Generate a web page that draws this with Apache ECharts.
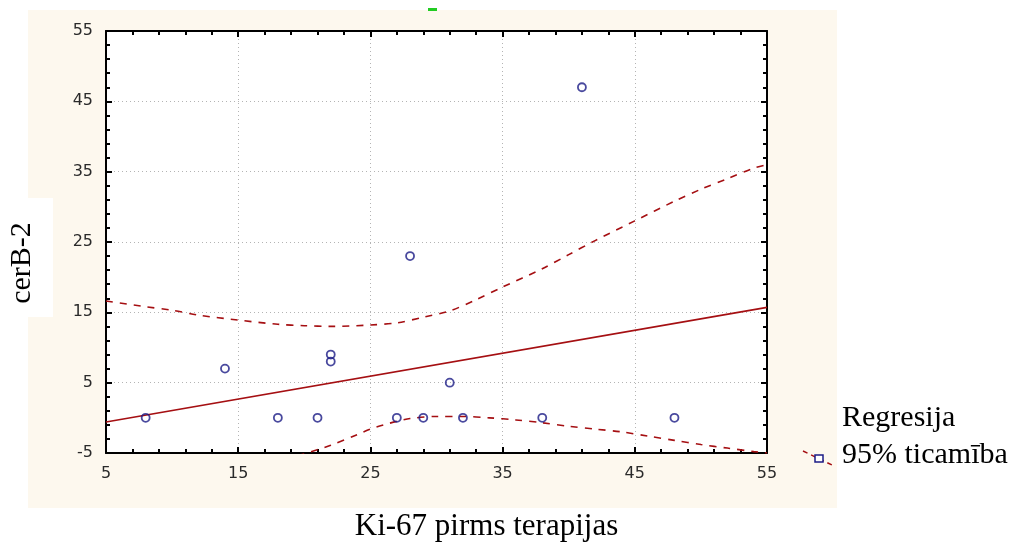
<!DOCTYPE html>
<html>
<head>
<meta charset="utf-8">
<script src="https://cdn.jsdelivr.net/npm/echarts@6/dist/echarts.min.js"></script>
<style>
  html, body { margin: 0; padding: 0; background: #fff; }
  #chart { width: 1021px; height: 547px; }
</style>
</head>
<body>
<div id="chart"></div>
<script>
// Ki-67 (x) vs cerB-2 (y)
let ki67 = [8, 14, 18, 21, 22, 22, 27, 28, 29, 31, 32, 38, 41, 48];
let cerb2 = [0, 7, 0, 0, 8, 9, 0, 23, 0, 5, 0, 0, 47, 0];

// regression line end points
let regX = [5, 55];
let regY = [-0.6, 15.7];

// 95% bands
let upperX = [5, 8, 10, 12, 15, 18, 20, 22, 25, 27, 29, 31, 33, 35, 38, 40, 42, 45, 48, 50, 52, 54, 55];
let upperY = [16.6, 15.8, 15.3, 14.6, 13.9, 13.3, 13.1, 13.0, 13.2, 13.5, 14.3, 15.2, 16.8, 18.6, 21.2, 23.2, 25.2, 28.0, 30.8, 32.5, 34.0, 35.5, 36.0];
let lowerX = [19.5, 22, 24, 25, 26, 27, 28, 30, 32, 34, 36, 38, 40, 42, 44, 46, 48, 50, 52, 54, 55];
let lowerY = [-5.4, -3.9, -2.4, -1.6, -1.0, -0.5, -0.1, 0.2, 0.2, 0.0, -0.3, -0.7, -1.2, -1.6, -2.0, -2.6, -3.2, -3.8, -4.3, -4.8, -5.0];

let xTicks = [5, 55, 10];
let yTicks = [-5, 55, 10];

let lineRed = '#a50f12';
let dotBlue = '#1c1c86';
let serif = '"Liberation Serif", "Times New Roman", serif';

function zip(xs, ys) {
    return xs.map((x, i) => [x, ys[i]]);
}

function axisBase(min, max, interval) {
    return {
        type: 'value',
        min: min,
        max: max,
        interval: interval,
        axisLine: { show: true, onZero: false, lineStyle: { color: '#000', width: 2 } },
        axisTick: { show: true, inside: true, length: 6, lineStyle: { color: '#000', width: 2 } },
        minorTick: { show: true, splitNumber: 5, length: 4, lineStyle: { color: '#000', width: 2 } },
        splitLine: { show: false }
    };
}

let tickFont = { color: '#2a2a2a', fontFamily: 'DejaVu Sans', fontSize: 16 };

let xMain = axisBase(xTicks[0], xTicks[1], xTicks[2]);
xMain.position = 'bottom';
xMain.axisLabel = Object.assign({ margin: 13 }, tickFont);
xMain.splitLine = { show: true, lineStyle: { color: '#b4b4b4', type: [1, 3], width: 1 } };
xMain.name = 'Ki-67 pirms terapijas';
xMain.nameLocation = 'middle';
xMain.nameGap = 58;
xMain.nameTextStyle = { fontFamily: serif, fontSize: 31, color: '#000', padding: [0, 0, 0, 100] };

let xTop = axisBase(xTicks[0], xTicks[1], xTicks[2]);
xTop.position = 'top';
xTop.axisLabel = { show: false };

let yMain = axisBase(yTicks[0], yTicks[1], yTicks[2]);
yMain.position = 'left';
yMain.axisLabel = Object.assign({ margin: 13 }, tickFont);
yMain.splitLine = { show: true, lineStyle: { color: '#b4b4b4', type: [1, 3], width: 1 } };

let yRight = axisBase(yTicks[0], yTicks[1], yTicks[2]);
yRight.position = 'right';
yRight.axisLabel = { show: false };

let chart = echarts.init(document.getElementById('chart'), null, { renderer: 'canvas' });

chart.setOption({
    animation: false,
    backgroundColor: '#fff',
    grid: {
        left: 106, top: 31, width: 661, height: 439,
        show: true, backgroundColor: '#fff', borderWidth: 0
    },
    xAxis: [xMain, xTop],
    yAxis: [yMain, yRight],
    graphic: [
        // beige panel behind the plot
        { type: 'rect', z: -10, silent: true, shape: { x: 28, y: 10, width: 809, height: 498 }, style: { fill: '#fdf8ee' } },
        { type: 'rect', z: -9, silent: true, shape: { x: 428, y: 8, width: 9, height: 3 }, style: { fill: '#22cc22' } },
        // y title on white box
        { type: 'rect', z: 5, silent: true, shape: { x: 0, y: 198, width: 53, height: 119 }, style: { fill: '#fff' } },
        {
            type: 'text', z: 6, x: 22, y: 263, rotation: Math.PI / 2,
            style: { text: 'cerB-2', font: '30px ' + serif, fill: '#000', align: 'center', verticalAlign: 'middle' }
        },
        // legend
        { type: 'line', z: 6, shape: { x1: 803, y1: 451, x2: 832, y2: 465 }, style: { stroke: lineRed, lineWidth: 1.5, lineDash: [5, 4] } },
        { type: 'rect', z: 7, shape: { x: 815, y: 455, width: 8, height: 7 }, style: { fill: '#fff', stroke: dotBlue, lineWidth: 1.5 } },
        {
            type: 'text', z: 6, x: 842, y: 418,
            style: { text: 'Regresija', font: '30px ' + serif, fill: '#000', verticalAlign: 'middle' }
        },
        {
            type: 'text', z: 6, x: 842, y: 455,
            style: { text: '95% ticamība', font: '30px ' + serif, fill: '#000', verticalAlign: 'middle' }
        }
    ],
    series: [
        {
            name: 'Regresija', type: 'line', data: zip(regX, regY), showSymbol: false,
            lineStyle: { color: lineRed, width: 1.6 }, z: 3
        },
        {
            name: 'upper', type: 'line', data: zip(upperX, upperY), showSymbol: false, smooth: 0.3,
            lineStyle: { color: lineRed, width: 1.6, type: [7, 7] }, z: 3
        },
        {
            name: 'lower', type: 'line', data: zip(lowerX, lowerY), showSymbol: false, smooth: 0.3,
            lineStyle: { color: lineRed, width: 1.6, type: [7, 7] }, z: 3
        },
        {
            name: 'points', type: 'scatter', data: zip(ki67, cerb2), symbol: 'circle', symbolSize: 8,
            itemStyle: { color: 'rgba(255,255,255,0)', borderColor: dotBlue, borderWidth: 1.8 }, z: 4
        }
    ]
});
</script>
</body>
</html>
